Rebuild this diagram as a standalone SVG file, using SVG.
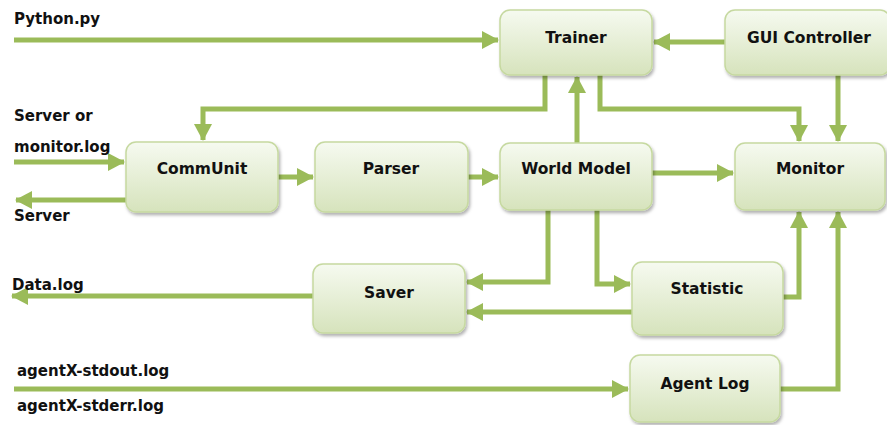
<svg xmlns="http://www.w3.org/2000/svg" width="887" height="425" viewBox="0 0 887 425">
<defs>
<linearGradient id="g" x1="0" y1="0" x2="0" y2="1">
<stop offset="0" stop-color="#f6faf0"/>
<stop offset="1" stop-color="#d6e3bc"/>
</linearGradient>
<filter id="sh" x="-10%" y="-10%" width="125%" height="130%">
<feDropShadow dx="1.5" dy="2.5" stdDeviation="1.5" flood-color="#000" flood-opacity="0.3"/>
</filter>
<marker id="ah" markerUnits="userSpaceOnUse" markerWidth="18" markerHeight="20" refX="16" refY="10" orient="auto">
<path d="M0,1 L17,10 L0,19 Z" fill="#9bbb59"/>
</marker>
</defs>
<style>
.box{fill:url(#g);stroke:#c6d9a0;stroke-width:1.5;filter:url(#sh)}
.lbl{font-family:"DejaVu Sans","Liberation Sans",sans-serif;font-weight:bold;font-size:15.5px;fill:#111;text-anchor:middle}
.ext{font-family:"DejaVu Sans","Liberation Sans",sans-serif;font-weight:bold;font-size:15px;fill:#111}
.c{fill:none;stroke:#9bbb59;stroke-width:5;marker-end:url(#ah)}
</style>
<rect width="887" height="425" fill="#fff"/>
<g id="connectors">
<line class="c" x1="14" y1="40" x2="498" y2="40"/>
<line class="c" x1="725" y1="42" x2="654" y2="42"/>
<polyline class="c" points="545,75 545,109 203,109 203,140"/>
<line class="c" x1="577" y1="143" x2="577" y2="77"/>
<polyline class="c" points="600,75 600,109 799,109 799,141"/>
<line class="c" x1="838" y1="75" x2="838" y2="141"/>
<line class="c" x1="14" y1="162" x2="124" y2="162"/>
<line class="c" x1="126" y1="200" x2="16" y2="200"/>
<line class="c" x1="278" y1="177" x2="313" y2="177"/>
<line class="c" x1="468" y1="177" x2="498" y2="177"/>
<line class="c" x1="652" y1="173" x2="733" y2="173"/>
<polyline class="c" points="548,210 548,282 467,282"/>
<polyline class="c" points="597,210 597,284 630,284"/>
<line class="c" x1="632" y1="312" x2="467" y2="312"/>
<polyline class="c" points="783,297 799,297 799,212"/>
<line class="c" x1="313" y1="296" x2="12" y2="296"/>
<line class="c" x1="14" y1="389" x2="628" y2="389"/>
<polyline class="c" points="780,389 838,389 838,212"/>
</g>
<g id="trainer"><rect class="box" x="500" y="10" width="152" height="65" rx="10"/><text class="lbl" x="576" y="43">Trainer</text></g>
<g id="gui-controller"><rect class="box" x="725" y="10" width="165" height="65" rx="10"/><text class="lbl" x="809" y="43">GUI Controller</text></g>
<g id="communit"><rect class="box" x="126" y="142" width="152" height="70" rx="10"/><text class="lbl" x="202" y="174">CommUnit</text></g>
<g id="parser"><rect class="box" x="315" y="142" width="153" height="70" rx="10"/><text class="lbl" x="391" y="174">Parser</text></g>
<g id="world-model"><rect class="box" x="500" y="143" width="152" height="67" rx="10"/><text class="lbl" x="576" y="174">World Model</text></g>
<g id="monitor"><rect class="box" x="735" y="143" width="150" height="67" rx="10"/><text class="lbl" x="810" y="174">Monitor</text></g>
<g id="saver"><rect class="box" x="313" y="264" width="152" height="69" rx="10"/><text class="lbl" x="389" y="298">Saver</text></g>
<g id="statistic"><rect class="box" x="632" y="262" width="151" height="73" rx="10"/><text class="lbl" x="707" y="294">Statistic</text></g>
<g id="agent-log"><rect class="box" x="630" y="355" width="150" height="67" rx="10"/><text class="lbl" x="705" y="389">Agent Log</text></g>
<g id="labels">
<text class="ext" x="14" y="24">Python.py</text>
<text class="ext" x="14" y="121">Server or</text>
<text class="ext" x="14" y="152">monitor.log</text>
<text class="ext" x="14" y="221">Server</text>
<text class="ext" x="12" y="290">Data.log</text>
<text class="ext" x="17" y="376">agentX-stdout.log</text>
<text class="ext" x="17" y="411">agentX-stderr.log</text>
</g>
</svg>
